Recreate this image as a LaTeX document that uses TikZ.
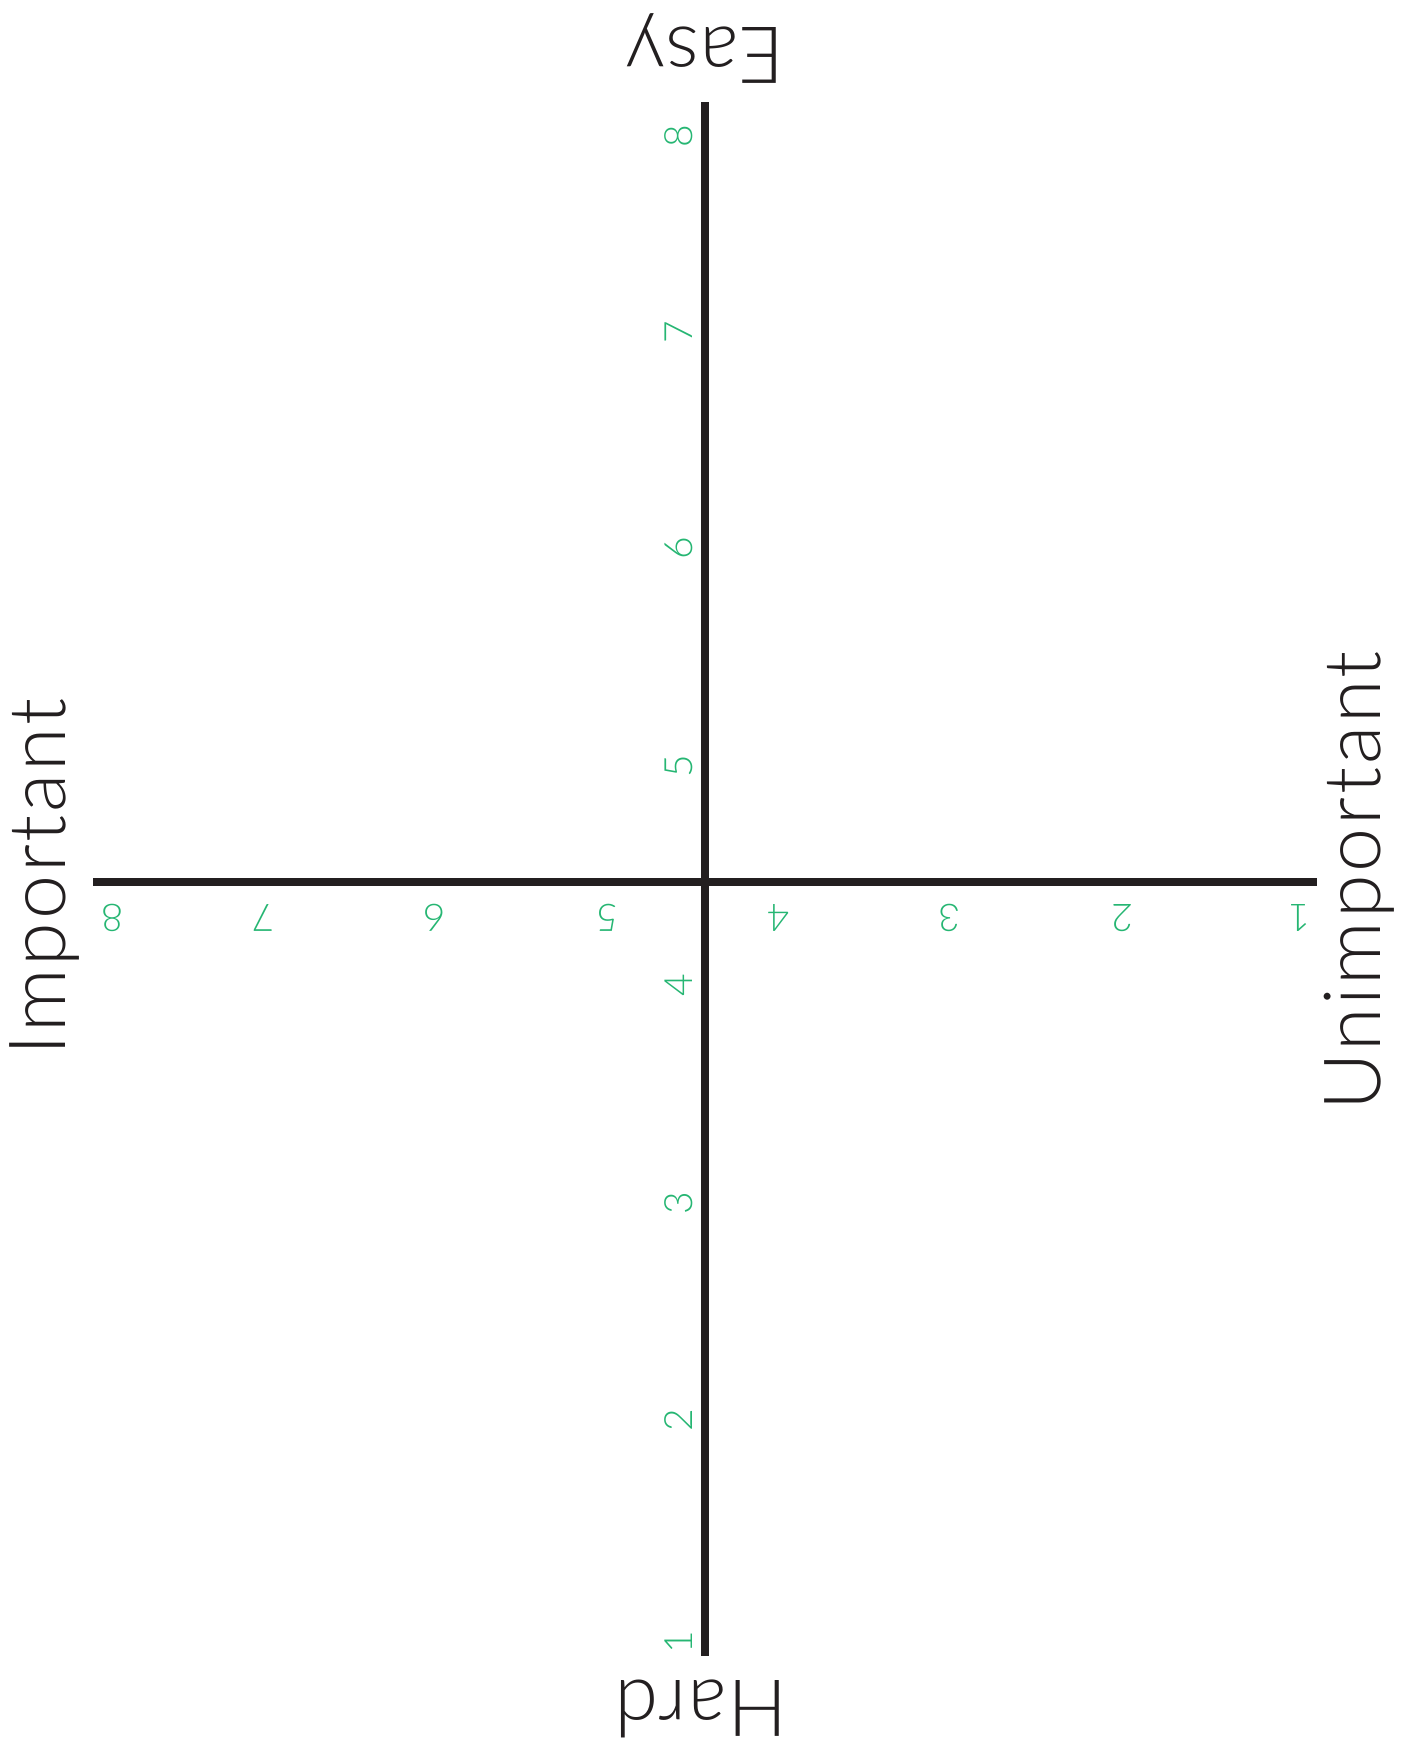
\documentclass[tikz,border=0pt]{standalone}
\usepackage{fontspec}
\setmainfont{Lato Light}
\definecolor{axisblack}{RGB}{35,31,32}
\definecolor{tickgreen}{RGB}{38,182,115}
\begin{document}
\begin{tikzpicture}[x=0.5pt,y=-0.5pt,
  axis/.style={line width=4pt,draw=axisblack},
  biglabel/.style={inner sep=0pt,outer sep=0pt,anchor=base,text=axisblack,font=\fontsize{39.5}{44}\selectfont},
  vtick/.style={inner sep=0pt,outer sep=0pt,anchor=base,rotate=90,text=tickgreen,font=\fontsize{19.5}{22}\selectfont},
  htick/.style={inner sep=0pt,outer sep=0pt,anchor=base,rotate=180,text=tickgreen,font=\fontsize{19}{22}\selectfont}]
\useasboundingbox[fill=white] (0,0) rectangle (1420,1747);
% axes
\coordinate (vtop) at (705,102);
\coordinate (vbot) at (705,1656);
\coordinate (hleft) at (93,882);
\coordinate (hright) at (1317,882);
\draw[axis] (vtop) -- (vbot);
\draw[axis] (hleft) -- (hright);
% big labels
\node[biglabel,rotate=180] (easy) at (705,27) {\addfontfeatures{LetterSpace=1}Easy};
\node[biglabel,rotate=180] (hard) at (701,1680) {\addfontfeatures{LetterSpace=3}Hard};
\node[biglabel,rotate=90] (imp) at (65,877) {\addfontfeatures{LetterSpace=3.5}Important};
\node[biglabel,rotate=90] (unimp) at (1380,881) {\addfontfeatures{LetterSpace=3.5}Unimportant};
% vertical ticks
\node[vtick] (v8) at (692,136) {8};
\node[vtick] (v7) at (692,332) {7};
\node[vtick] (v6) at (692,548) {6};
\node[vtick] (v5) at (692,766) {5};
\node[vtick] (v4) at (692,985) {4};
\node[vtick] (v3) at (692,1203) {3};
\node[vtick] (v2) at (692,1420) {2};
\node[vtick] (v1) at (692,1642) {1};
% horizontal ticks
\node[htick] (h8) at (112,904) {8};
\node[htick] (h7) at (263,904) {7};
\node[htick] (h6) at (434,904) {6};
\node[htick] (h5) at (607,904) {5};
\node[htick] (h4) at (778,904) {4};
\node[htick] (h3) at (949,904) {3};
\node[htick] (h2) at (1122,904) {2};
\node[htick] (h1) at (1299,904) {1};
\end{tikzpicture}
\end{document}
